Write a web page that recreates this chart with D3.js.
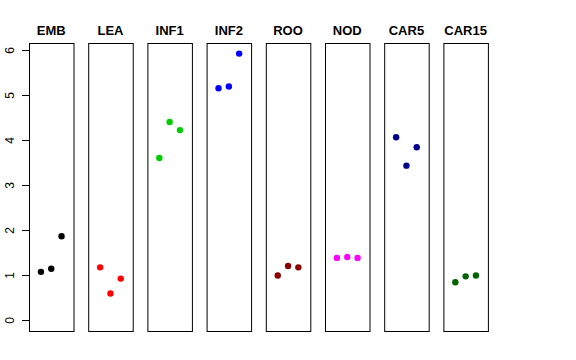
<!DOCTYPE html>
<html><head><meta charset="utf-8">
<script src="https://cdn.jsdelivr.net/npm/d3@7"></script>
<style>body{margin:0;background:#fff}svg{display:block}text{font-family:"Liberation Sans",Arial,sans-serif}</style>
</head><body><svg id="c" width="576" height="360"></svg>
<script>
const categories = ["EMB","LEA","INF1","INF2","ROO","NOD","CAR5","CAR15"];
const colors = ["#000000","#FF0000","#00CD00","#0000FF","#8B0000","#FF00FF","#00008B","#006400"];
const replicates = [1,2,3];
const EMB = [1.07,1.14,1.86];
const LEA = [1.17,0.59,0.92];
const INF1 = [3.60,4.40,4.22];
const INF2 = [5.15,5.19,5.92];
const ROO = [0.99,1.20,1.17];
const NOD = [1.38,1.40,1.38];
const CAR5 = [4.06,3.43,3.84];
const CAR15 = [0.84,0.97,0.99];
const seriesValues = [EMB,LEA,INF1,INF2,ROO,NOD,CAR5,CAR15];
const yTicks = [0,1,2,3,4,5,6];

const svg = d3.select("#c");
const panelTop = 43, panelBottom = 331;
const x = d3.scaleBand().domain(categories).range([29, 487.9]).paddingInner(0.248).paddingOuter(0);
const y = d3.scaleLinear().domain([-0.244, 6.156]).range([panelBottom, panelTop]);

categories.forEach((cat, i) => {
  const g = svg.append("g").attr("transform", `translate(${x(cat)},0)`);
  const xi = d3.scaleLinear().domain([-0.16, 4.16]).range([0, x.bandwidth()]);
  g.append("rect").attr("x", 0.5).attr("y", panelTop + 0.5).attr("width", x.bandwidth()).attr("height", panelBottom - panelTop)
    .attr("fill", "none").attr("stroke", "#000").attr("stroke-width", 1);
  g.selectAll("circle").data(seriesValues[i]).join("circle")
    .attr("cx", (d, j) => xi(replicates[j])).attr("cy", d => y(d)).attr("r", 3.2)
    .attr("fill", colors[i]);
  g.append("text").attr("x", x.bandwidth() / 2).attr("y", 34.7).attr("text-anchor", "middle")
    .attr("font-size", 13).attr("font-weight", "bold").text(cat);
});

const ax = svg.append("g").attr("transform", "translate(29.5,0)")
  .call(d3.axisLeft(y).tickValues(yTicks).tickSize(7.5).tickPadding(0).tickFormat(d3.format("d")));
ax.select(".domain").attr("d", `M0,${y(0)}V${y(6)}`).attr("stroke", "#000");
ax.selectAll(".tick line").attr("stroke", "#000");
ax.selectAll(".tick text").attr("x", null).attr("dy", null).attr("text-anchor", "middle")
  .attr("transform", "translate(-16,0) rotate(-90)").attr("font-size", 12).attr("fill", "#000")
  .attr("font-family", "Liberation Sans, Arial, sans-serif");
</script></body></html>
